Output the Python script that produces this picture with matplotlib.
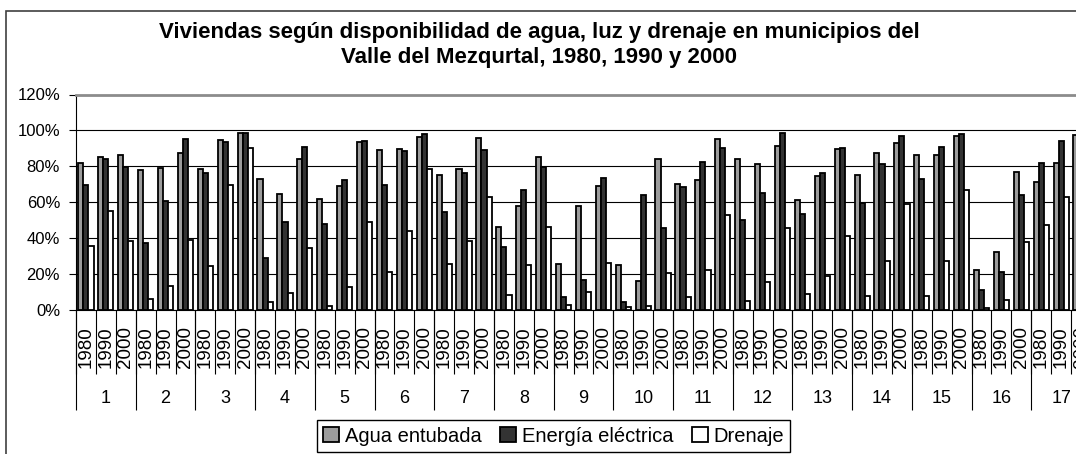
import numpy as np
import matplotlib
matplotlib.use("Agg")
import matplotlib.pyplot as plt
from matplotlib.patches import Rectangle

plt.rcParams['font.family'] = ['Liberation Sans', 'DejaVu Sans']

# municipios 1..17, cada uno con 1980, 1990, 2000
municipios = [str(i) for i in range(1, 18)]
anios = ['1980', '1990', '2000']

agua = [82, 85, 86,        # 1
        78, 79, 87.5,      # 2
        78.5, 94.5, 98.3,  # 3
        72.7, 64.7, 84.2,  # 4
        61.4, 69.2, 93.5,  # 5
        89.2, 89.8, 96.5,  # 6
        75.3, 78.6, 95.5,  # 7
        46, 58, 85,        # 8
        25.3, 57.7, 68.8,  # 9
        24.8, 16.1, 84.2,  # 10
        70.3, 72.5, 95,    # 11
        83.8, 81.4, 91.3,  # 12
        61, 74.7, 89.4,    # 13
        75.3, 87.3, 92.7,  # 14
        86.3, 86.1, 96.7,  # 15
        21.8, 32, 76.6,    # 16
        71, 82, 97.2]      # 17

energia = [69.5, 84.2, 79.4,
           37, 60.6, 95,
           76.2, 93.5, 98.7,
           28.5, 48.6, 90.5,
           47.6, 72.3, 94.2,
           69.5, 88.3, 98.1,
           54.3, 76, 89.2,
           35, 66.8, 79.4,
           7.1, 16.6, 73.6,
           4, 63.8, 45.4,
           68.4, 82.3, 90.3,
           49.9, 64.9, 98.3,
           53.5, 76.3, 90.1,
           59.2, 81, 97.1,
           73.1, 90.7, 97.8,
           10.9, 20.9, 64,
           82, 94.2, 98]

drenaje = [35.2, 54.9, 38,
           6, 13, 38.8,
           24.4, 69.5, 90,
           4.2, 9, 34.6,
           2.1, 12.3, 48.6,
           20.9, 44, 78.3,
           25.3, 38, 62.7,
           8.3, 24.8, 45.8,
           2.5, 9.7, 26.1,
           1.6, 2, 20.5,
           7.1, 22.2, 52.5,
           4.7, 15.5, 45.5,
           8.4, 18.8, 40.8,
           7.6, 26.8, 59.1,
           7.7, 26.8, 66.5,
           0.8, 5.3, 37.8,
           46.9, 62.7, 70]

W, H = 1076, 454
fig = plt.figure(figsize=(W / 100, H / 100), dpi=100)
ax = fig.add_axes([76 / W, (H - 309.5) / H, 1015 / W, 215 / H])

n = len(agua)
x = np.arange(n) + 0.5
w = 0.255
b1 = ax.bar(x - w, agua, w, color='#9c9c9c', edgecolor='black', linewidth=1.3, zorder=3)
b2 = ax.bar(x, energia, w, color='#333333', edgecolor='black', linewidth=1.3, zorder=3)
b3 = ax.bar(x + w, drenaje, w, color='white', edgecolor='black', linewidth=1.3, zorder=3)

ax.set_xlim(0, n)
ax.set_ylim(0, 120)
ax.set_yticks(range(0, 121, 20))
ax.set_yticklabels([f'{v}%' for v in range(0, 121, 20)])
ax.yaxis.grid(True, color='black', linewidth=0.8)
ax.set_axisbelow(True)
ax.set_xticks([])
ax.tick_params(axis='y', direction='out', length=5, width=0.8, pad=6.5, labelsize=12)

ax.spines['right'].set_visible(False)
ax.spines['top'].set_color('#8c8c8c')
ax.spines['top'].set_linewidth(2)
ax.spines['left'].set_color('black')
ax.spines['bottom'].set_color('black')

# etiquetas de dos niveles en el eje x
tr = ax.get_xaxis_transform()
for i in range(n):
    ax.text(i + 0.5, -0.078, anios[i % 3], rotation=90, ha='center', va='top',
            fontsize=13.5, transform=tr, clip_on=False)
ax.vlines(np.arange(n + 1), -0.30, 0, colors='black', linewidth=0.8,
          transform=tr, clip_on=False)
ax.vlines(np.arange(0, n + 1, 3), -0.467, 0, colors='black', linewidth=0.8,
          transform=tr, clip_on=False)
for g, m in enumerate(municipios):
    ax.text(3 * g + 1.5, -0.412, m, ha='center', va='center', fontsize=13,
            transform=tr, clip_on=False)

leg = fig.legend([b1, b2, b3], ['Agua entubada', 'Energía eléctrica', 'Drenaje'],
                 loc='center', bbox_to_anchor=(553.5 / W, 18 / H), ncol=3,
                 fancybox=False, edgecolor='black', framealpha=1, fontsize=14.5,
                 handlelength=0.8, handleheight=0.8, handletextpad=0.3,
                 columnspacing=0.9, borderpad=0.3, borderaxespad=0)
leg.get_frame().set_linewidth(1)

fig.text(539 / W, (H - 45) / H,
         'Viviendas según disponibilidad de agua, luz y drenaje en municipios del\n'
         'Valle del Mezqurtal, 1980, 1990 y 2000',
         ha='center', va='center', fontsize=16, fontweight='bold', linespacing=1.3)

fig.patches.append(Rectangle((6 / W, -0.05), 1.2, (H - 11) / H + 0.05,
                             transform=fig.transFigure, fill=False,
                             edgecolor='#404040', linewidth=1.2))

fig.savefig('out.png', dpi=100)
